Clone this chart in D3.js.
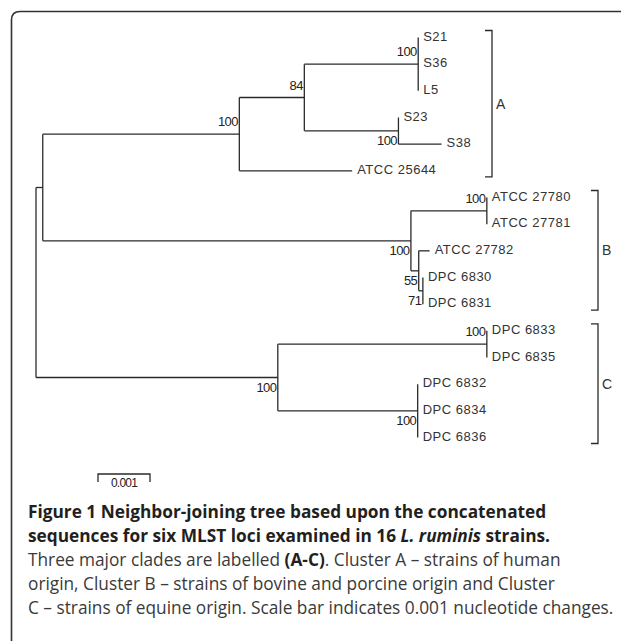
<!DOCTYPE html>
<html>
<head>
<meta charset="utf-8">
<script src="https://cdn.jsdelivr.net/npm/d3@7"></script>
<style>
  html, body { margin: 0; padding: 0; background: #fff; }
  svg { display: block; }
</style>
</head>
<body>
<svg id="chart" width="621" height="641"></svg>
<script>
// ---------------- DATA ----------------
// Tree nodes (parent-child table), branch lengths in nucleotide changes
const nodeIds = ["root","AB","A","A1","A11","S21","S36","L5","A12","S23","S38","ATCC 25644",
  "B","B1","ATCC 27780","ATCC 27781","B2","ATCC 27782","B21","DPC 6830","DPC 6831",
  "C","C1","DPC 6833","DPC 6835","C2","DPC 6832","DPC 6834","DPC 6836"];
const parentIds = ["","root","AB","A","A1","A11","A11","A11","A1","A12","A12","A",
  "AB","B","B1","B1","B","B2","B2","B21","B21",
  "root","C","C1","C1","C","C2","C2","C2"];
const branchLengths = [0,0.00013,0.00378,0.00125,0.00219,0,0,0,0.00181,0,0.00083,0.00217,
  0.00708,0.00146,0,0,0.00015,0.00021,0.00008,0,0,
  0.00465,0.00402,0,0,0.00269,0,0,0];
// Bootstrap support values at internal nodes
const supportNodes = ["A","A1","A11","A12","B","B1","B2","B21","C","C1","C2"];
const supportValues = [100,84,100,100,100,100,55,71,100,100,100];
const supportSide  = ["above","above","above","below","below","above","below","below","below","above","below"];
// Clades
const cladeNames = ["A","B","C"];
const cladeFirstLeaf = ["S21","ATCC 27780","DPC 6833"];
const cladeLastLeaf  = ["ATCC 25644","DPC 6831","DPC 6836"];
// Scale bar
const scaleBarValue = 0.001;
const scaleBarLabel = "0.001";
// Caption
const captionLines = [
  [{t:"Figure 1 Neighbor-joining tree based upon the concatenated", b:true}],
  [{t:"sequences for six MLST loci examined in 16 ", b:true},{t:"L. ruminis", b:true, i:true},{t:" strains.", b:true}],
  [{t:"Three major clades are labelled "},{t:"(A-C)", b:true},{t:". Cluster A \u2013 strains of human"}],
  [{t:"origin, Cluster B \u2013 strains of bovine and porcine origin and Cluster"}],
  [{t:"C \u2013 strains of equine origin. Scale bar indicates 0.001 nucleotide changes."}]
];

// ---------------- LAYOUT ----------------
const svg = d3.select("#chart");
svg.append("rect").attr("width",621).attr("height",641).attr("fill","#fff");

// frame (top and left edges with rounded corner)
svg.append("path")
  .attr("d","M11.5,641 V20 Q11.5,11.5 20,11.5 H621")
  .attr("fill","none").attr("stroke","#333").attr("stroke-width",1.6);

const rows = nodeIds.map((id,i)=>({id, parent: parentIds[i], len: branchLengths[i]}));
const root = d3.stratify().id(d=>d.id).parentId(d=>d.parent || null)(rows);

// depth in substitutions
root.eachBefore(n => { n.dist = n.parent ? n.parent.dist + n.data.len : 0; });
const leaves = root.leaves();
const maxDist = d3.max(leaves, d=>d.dist);

const pxPerUnit = 52000; // 52 px per 0.001
const x = d3.scaleLinear().domain([0, maxDist]).range([36, 36 + maxDist*pxPerUnit]);
const y = d3.scalePoint().domain(leaves.map(d=>d.id)).range([37.5, 437.5]);

root.eachAfter(n => {
  n.px = x(n.dist);
  if (!n.children) n.py = y(n.id);
  else n.py = (n.children[0].py + n.children[n.children.length-1].py)/2;
});

const lineColor = "#2a2a2a";
const g = svg.append("g").attr("stroke", lineColor).attr("stroke-width",1.3).attr("fill","none");
// horizontal branches
g.selectAll("line.h").data(root.descendants().filter(d=>d.parent && d.data.len>0))
  .join("line").attr("class","h")
  .attr("x1", d=>d.parent.px).attr("x2", d=>d.px)
  .attr("y1", d=>d.py).attr("y2", d=>d.py);
// vertical connectors
g.selectAll("line.v").data(root.descendants().filter(d=>d.children))
  .join("line").attr("class","v")
  .attr("x1", d=>d.px).attr("x2", d=>d.px)
  .attr("y1", d=>d.children[0].py).attr("y2", d=>d.children[d.children.length-1].py);

// leaf labels
const labelFont = "'Liberation Sans', Arial, sans-serif";
svg.selectAll("text.leaf").data(leaves).join("text").attr("class","leaf")
  .attr("x", d=>d.px + 5).attr("y", d=>d.py - 1.5)
  .attr("dominant-baseline","central")
  .attr("font-family", labelFont).attr("font-size", 13)
  .attr("letter-spacing", 0.5)
  .attr("fill","#333").text(d=>d.id);

// bootstrap labels
const nodeById = new Map(root.descendants().map(d=>[d.id,d]));
svg.selectAll("text.bs").data(supportNodes).join("text").attr("class","bs")
  .attr("x", d=>nodeById.get(d).px - 1.5)
  .attr("y", (d,i)=> nodeById.get(d).py + (supportSide[i]==="above" ? -8 : 14))
  .attr("text-anchor","end")
  .attr("font-family", labelFont).attr("font-size", 13)
  .attr("letter-spacing", -0.6)
  .attr("fill","#222").text((d,i)=>supportValues[i]);

// clade brackets
const bracketX = {A: 492, B: 598, C: 598};
cladeNames.forEach((c,i)=>{
  const y0 = y(cladeFirstLeaf[i]) - 7, y1 = y(cladeLastLeaf[i]) + 6;
  const bx = bracketX[c];
  svg.append("path")
    .attr("d", `M${bx-7},${y0} H${bx} V${y1} H${bx-7}`)
    .attr("fill","none").attr("stroke",lineColor).attr("stroke-width",1.3);
  svg.append("text").attr("x", bx+4).attr("y",(y0+y1)/2)
    .attr("dominant-baseline","central")
    .attr("font-family", labelFont).attr("font-size",14)
    .attr("fill","#333").text(c);
});

// scale bar
const sbX0 = 98, sbY = 474;
const sbW = x(scaleBarValue) - x(0);
svg.append("path")
  .attr("d", `M${sbX0},${sbY+8} V${sbY} H${sbX0+sbW} V${sbY+8}`)
  .attr("fill","none").attr("stroke",lineColor).attr("stroke-width",1.3);
svg.append("text").attr("x", sbX0 + sbW/2).attr("y", sbY + 13)
  .attr("text-anchor","middle").attr("font-family", labelFont)
  .attr("font-size",12).attr("letter-spacing",-0.8).attr("fill","#222").text(scaleBarLabel);

// caption
const capFont = "'Open Sans', 'Noto Sans', sans-serif";
const cap = svg.append("g").attr("font-family", capFont);
const baselines = [518, 542, 566, 590, 614];
const capTexts = captionLines.map((segs,li)=>{
  const t = cap.append("text").attr("x",28).attr("y",baselines[li]).attr("font-size",16);
  segs.forEach(s=>{
    t.append("tspan").text(s.t)
      .attr("font-weight", s.b ? 700 : 400)
      .attr("font-style", s.i ? "italic" : "normal")
      .attr("fill", s.b ? "#231f20" : "#3a3a3a");
  });
  return t;
});
// fit font size so that the last caption line spans the target width
const w5 = capTexts[4].node().getComputedTextLength();
const fs = 16 * 586 / w5;
capTexts.forEach(t=>t.attr("font-size", fs));
</script>
</body>
</html>
